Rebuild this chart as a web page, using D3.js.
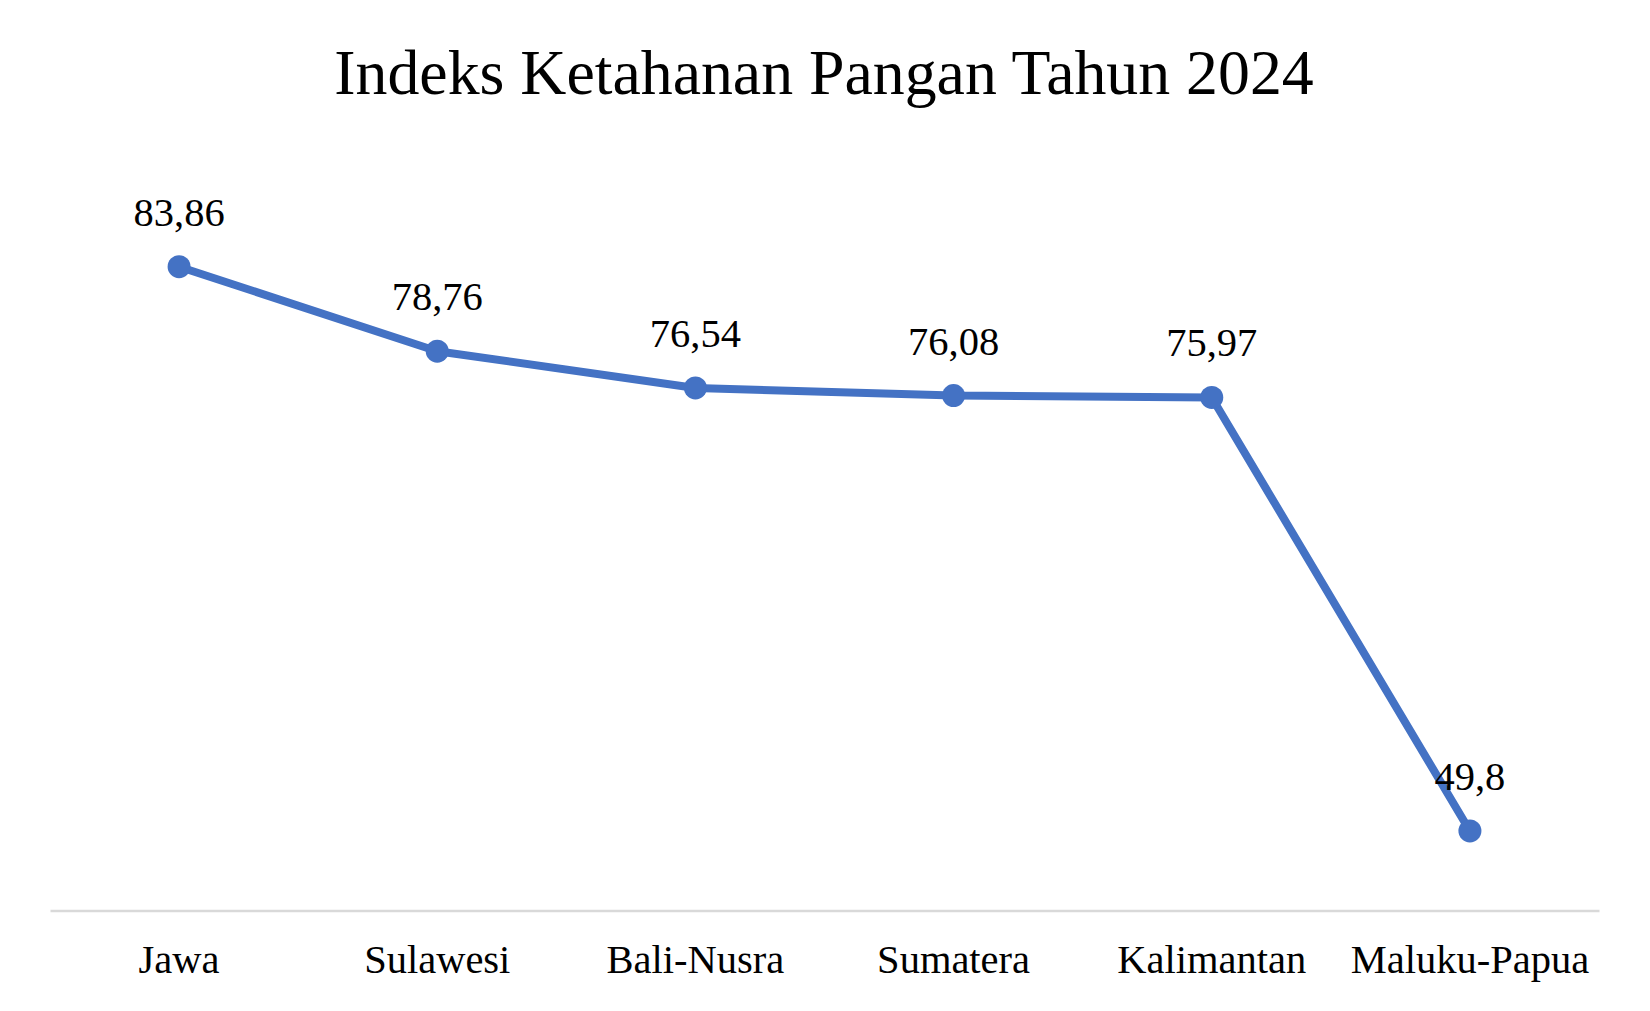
<!DOCTYPE html>
<html>
<head>
<meta charset="utf-8">
<script src="https://cdn.jsdelivr.net/npm/d3@7"></script>
<style>
  html, body { margin: 0; padding: 0; background: #fff; }
  svg { display: block; }
  text { font-family: "Liberation Serif", "Times New Roman", serif; fill: #000; }
</style>
</head>
<body>
<svg id="chart" width="1650" height="1011"></svg>
<script>
const title = "Indeks Ketahanan Pangan Tahun 2024";
const categories = ["Jawa", "Sulawesi", "Bali-Nusra", "Sumatera", "Kalimantan", "Maluku-Papua"];
const values = [83.86, 78.76, 76.54, 76.08, 75.97, 49.8];
const valueLabels = ["83,86", "78,76", "76,54", "76,08", "75,97", "49,8"];
const yDomain = [45, 90];

const svg = d3.select("#chart");
const W = 1650, H = 1011;
svg.append("rect").attr("width", W).attr("height", H).attr("fill", "#fff");

const x = d3.scaleBand().domain(categories).range([50, 1599]);
const y = d3.scaleLinear().domain(yDomain).range([910.5, 165]);
const cx = c => x(c) + x.bandwidth() / 2;

svg.append("text")
  .attr("x", 824).attr("y", 94)
  .attr("text-anchor", "middle")
  .attr("font-size", 63.8)
  .text(title);

// axis
const xAxis = d3.axisBottom(x).tickSize(0).tickPadding(0);
const gx = svg.append("g").attr("transform", "translate(0,910.5)").call(xAxis);
gx.select(".domain").attr("stroke", "#d9d9d9").attr("stroke-width", 2.5);
gx.selectAll("text")
  .attr("font-family", "Liberation Serif, Times New Roman, serif")
  .attr("font-size", 40.5)
  .attr("fill", "#000")
  .attr("dy", null)
  .attr("y", 62);

const data = categories.map((c, i) => ({ c, v: values[i], l: valueLabels[i] }));
const line = d3.line().x(d => cx(d.c)).y(d => y(d.v));

svg.append("path")
  .datum(data)
  .attr("d", line)
  .attr("fill", "none")
  .attr("stroke", "#4472c4")
  .attr("stroke-width", 8)
  .attr("stroke-linejoin", "round");

svg.selectAll("circle.pt").data(data).enter().append("circle")
  .attr("class", "pt")
  .attr("cx", d => cx(d.c)).attr("cy", d => y(d.v))
  .attr("r", 11.5)
  .attr("fill", "#4472c4");

svg.selectAll("text.lbl").data(data).enter().append("text")
  .attr("class", "lbl")
  .attr("x", d => cx(d.c)).attr("y", d => y(d.v) - 41)
  .attr("text-anchor", "middle")
  .attr("font-size", 40.5)
  .text(d => d.l);
</script>
</body>
</html>
